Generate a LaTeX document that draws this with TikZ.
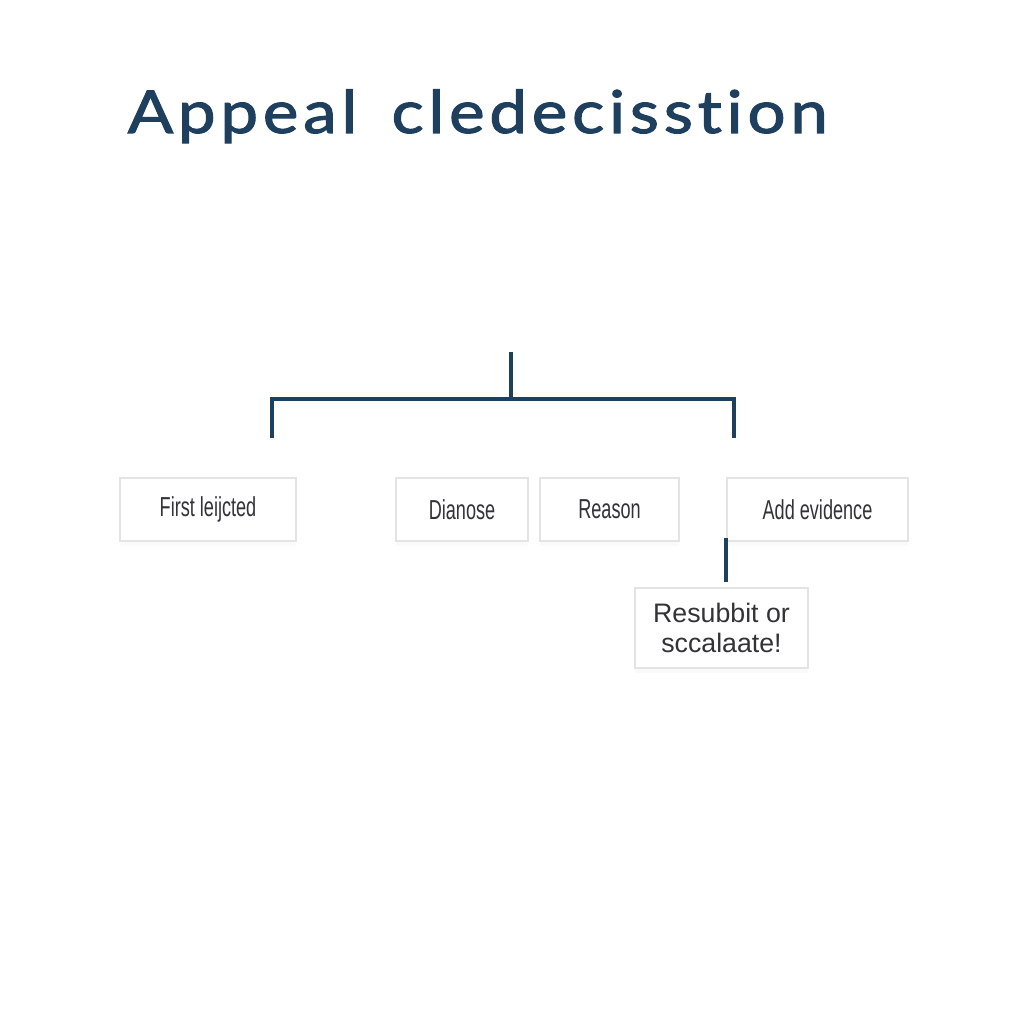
\documentclass[tikz,border=0pt]{standalone}
\usepackage{fontspec}
\setmainfont{Liberation Sans}
\newfontfamily\titlefont[Ligatures=NoCommon, LetterSpace=8, FakeBold=1.8, FakeStretch=1.14]{Lato}
\usepackage{xcolor}
\usetikzlibrary{arrows.meta, positioning, calc, shadows}
\definecolor{navy}{RGB}{31, 63, 95}
\definecolor{boxline}{RGB}{228, 228, 228}
\definecolor{boxtext}{RGB}{50, 50, 55}

\begin{document}
\begin{tikzpicture}[
    x=0.01cm, y=-0.01cm,
    stepbox/.style={rectangle, draw=boxline, fill=white, line width=0.5pt, minimum height=0.63cm, text=boxtext,
      font=\addfontfeature{FakeStretch=0.66}\fontsize{7.8}{9}\selectfont,
      drop shadow={opacity=0.04, shadow xshift=0pt, shadow yshift=-1.5pt}},
    endbox/.style={stepbox, minimum height=0.8cm, align=center, font=\fontsize{7.6}{8.6}\selectfont},
    branch/.style={draw=navy, line width=0.9pt}
  ]

  \useasboundingbox (0,0) rectangle (1024,1024);

  % Title
  \node[font=\titlefont\fontsize{16.8}{20}\selectfont, text=navy, anchor=base west, inner sep=0pt] (title) at (127, 133) {Appeal\hspace{0.58em}cledecisstion};

  % Steps
  \node[stepbox, minimum width=1.76cm] (first) at (208, 509.5) {First leijcted};
  \node[stepbox, minimum width=1.32cm] (dianose) at (462, 509.5) {Dianose};
  \node[stepbox, minimum width=1.39cm] (reason) at (609.5, 509.5) {Reason};
  \node[stepbox, minimum width=1.81cm] (evidence) at (817.5, 509.5) {Add evidence};
  \node[endbox, minimum width=1.73cm] (resubmit) at (721.5, 628) {Resubbit or\\sccalaate!};

  % Tree
  \coordinate (root) at (511, 352);
  \coordinate (fork) at (511, 399);
  \coordinate (leftend) at (272, 438);
  \coordinate (rightend) at (734, 438);
  \draw[branch] (root) -- (fork);
  \draw[branch] (leftend) |- (fork) -| (rightend);
  \draw[branch, line width=1pt, shorten <=-1.1pt, shorten >=1.4pt] (evidence.south west) -- (evidence.south west |- resubmit.north);

\end{tikzpicture}
\end{document}
